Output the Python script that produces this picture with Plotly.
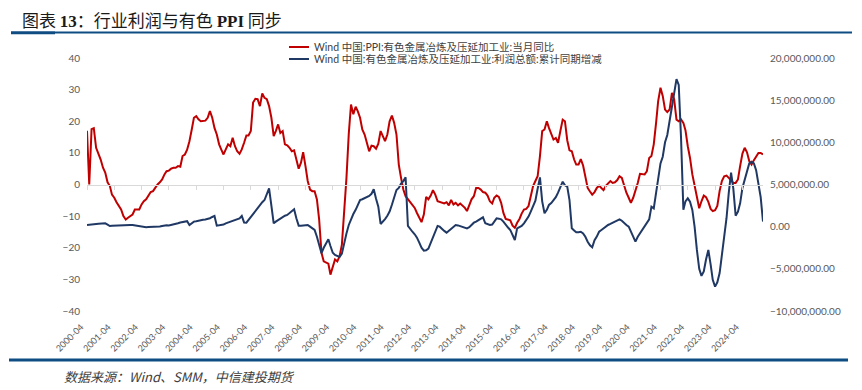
import pandas as pd
import plotly.graph_objects as go

# ---- data ----
months = pd.date_range("2000-04-01", periods=298, freq="MS")
tick_dates = [d for d in months if d.month == 4]
tick_labels = [d.strftime("%Y-%m") for d in tick_dates]

ppi_yoy = [
    17.0, 0.0, 17.5, 17.8, 11.6, 10.0, 7.9, 5.3, 3.8, 0.7, -0.5, -3.2,
    -4.2, -5.6, -6.6, -7.9, -10.0, -11.1, -10.5, -10.0, -9.5, -7.9, -7.9, -7.9,
    -6.3, -5.3, -4.7, -3.7, -2.4, -2.1, -1.0, 0.0, 0.7, 1.6, 3.2, 4.2,
    4.4, 5.0, 5.3, 5.3, 5.8, 5.6, 9.0, 9.5, 11.0, 13.7, 17.4, 21.1,
    21.6, 20.6, 20.0, 20.0, 20.2, 21.1, 23.2, 21.1, 17.9, 15.8, 12.7, 11.1,
    9.5, 11.1, 12.7, 12.1, 14.8, 12.1, 10.5, 9.7, 11.1, 13.2, 15.5, 15.5,
    16.9, 25.9, 27.1, 27.0, 24.8, 28.8, 27.4, 27.0, 24.8, 21.1, 15.3, 16.9,
    19.0, 16.3, 16.9, 12.7, 12.4, 11.6, 10.5, 10.8, 7.9, 5.0, 6.9, 10.2,
    5.8, 1.1, -1.6, -2.1, -2.1, -4.7, -11.1, -21.6, -24.3, -24.6, -25.0, -28.5,
    -25.8, -23.7, -24.3, -22.7, -19.0, -8.5, 2.0, 16.0, 25.3, 22.2, 24.6, 23.2,
    21.1, 17.4, 15.8, 13.2, 10.5, 12.3, 12.1, 11.3, 12.9, 16.9, 15.3, 13.7,
    15.8, 20.0, 21.8, 19.5, 15.8, 6.3, 2.1, -1.6, -3.7, -4.7, -5.5, -6.3,
    -7.4, -9.0, -10.5, -11.9, -9.5, -3.9, -4.7, -3.5, -1.8, -3.2, -5.3, -5.6,
    -5.8, -6.0, -5.6, -6.6, -4.9, -6.3, -5.8, -6.6, -6.0, -6.6, -7.4, -8.4,
    -6.8, -4.7, -3.7, -1.1, -1.1, -1.6, -2.4, -2.6, -3.5, -5.3, -6.0, -4.2,
    -3.5, -3.9, -5.8, -9.0, -10.9, -11.1, -11.3, -13.0, -13.7, -12.1, -10.9, -9.2,
    -7.9, -7.7, -6.8, -3.7, -0.5, 1.1, 2.6, 9.0, 16.9, 17.4, 20.0, 17.9,
    16.3, 14.2, 14.7, 13.2, 16.9, 20.5, 20.0, 14.0, 10.8, 10.5, 7.9, 6.3,
    6.3, 8.0, 6.0, 2.5, -1.1, -2.2, -3.2, -2.4, -1.1, -0.4, -1.1, -1.8,
    -0.4, 0.3, 1.1, 0.5, 0.7, 1.4, 2.6, 2.1, -0.4, -2.6, -4.2, -5.8,
    -4.2, -2.1, 0.5, 3.4, 3.2, 3.2, 4.2, 8.4, 9.0, 12.7, 19.5, 26.4,
    30.6, 28.0, 23.7, 22.9, 23.7, 29.0, 26.9, 20.5, 20.0, 20.6, 19.5, 17.2,
    12.1, 8.4, 3.2, 0.0, -3.5, -7.5, -5.3, -3.5, -4.0, -5.5, -7.7, -8.4,
    -8.1, -6.8, -2.0, 1.1, 2.6, 2.8, 2.1, 1.4, 0.5, 0.5, 1.6, 5.8,
    9.8, 11.6, 10.2, 7.4, 6.3, 7.7, 8.8, 10.0, 10.0, 9.5,
]

# cumulative profit change, in millions (right axis shows full units)
profit_chg_mn = [
    0.20, 0.25, 0.28, 0.30, 0.32, 0.35, 0.38, 0.40, 0.40, 0.25, 0.08, 0.10,
    0.12, 0.15, 0.18, 0.20, 0.20, 0.20, 0.20, 0.20, 0.20, 0.15, 0.08, 0.05,
    0.00, -0.05, -0.07, -0.05, -0.05, -0.03, 0.00, 0.00, 0.02, 0.08, 0.15, 0.18,
    0.15, 0.20, 0.28, 0.35, 0.40, 0.50, 0.55, 0.60, 0.65, 0.20, 0.45, 0.60,
    0.65, 0.72, 0.80, 0.82, 0.85, 0.90, 1.00, 1.15, 1.27, 0.12, 0.15, 0.20,
    0.25, 0.40, 0.50, 0.59, 0.70, 0.78, 0.85, 0.99, 1.27, 0.50, 0.47, 0.80,
    1.11, 1.50, 1.85, 2.18, 2.60, 2.90, 3.16, 3.80, 4.55, 2.50, 0.40, 0.60,
    0.80, 1.00, 1.15, 1.30, 1.39, 1.60, 1.85, 2.06, 1.00, 0.12, 0.12, 0.15,
    0.20, 0.20, 0.00, -0.20, -0.39, -1.20, -2.20, -3.15, -2.50, -1.90, -1.50, -2.30,
    -3.10, -3.35, -3.50, -3.60, -3.20, -1.90, -0.80, 0.20, 0.90, 1.50, 2.00, 2.60,
    3.16, 3.25, 3.36, 3.45, 3.64, 3.90, 4.43, 3.30, 2.37, 0.32, 0.60, 0.90,
    1.30, 1.80, 2.60, 3.40, 4.35, 4.60, 5.10, 5.40, 5.85, 0.10, -0.30, -0.60,
    -0.90, -1.30, -1.90, -2.50, -2.84, -2.80, -2.60, -1.90, -1.18, -0.40, 0.08, 0.00,
    -0.30, -0.50, -0.71, -0.50, -0.20, 0.00, 0.20, 0.15, 0.05, 0.00, -0.10, -0.20,
    -0.07, 0.20, 0.47, 0.60, 0.79, 0.90, 1.11, 0.40, 0.32, 0.20, 0.25, 0.60,
    0.99, 0.95, 0.87, 0.60, 0.20, -0.10, -0.39, -1.00, -1.58, -0.20, -0.10, 0.08,
    0.40, 0.79, 1.20, 1.79, 2.40, 3.08, 4.50, 5.85, 3.00, 1.59, 2.00, 2.57,
    2.80, 3.16, 3.50, 4.03, 4.60, 5.33, 4.90, 4.74, 3.16, -0.20, -0.45, -0.67,
    -0.65, -0.60, -0.80, -1.20, -1.78, -2.20, -2.44, -1.60, -1.18, -0.60, -0.40, -0.20,
    0.00, 0.20, 0.32, 0.45, 0.59, 0.79, 0.87, 0.70, 0.40, 0.20, 0.00, -0.59,
    -1.20, -1.78, -1.20, -0.79, -0.30, 0.00, 0.50, 0.87, 2.37, 2.17, 4.00, 5.92,
    7.50, 8.29, 10.00, 10.87, 12.50, 13.83, 15.80, 17.50, 16.80, 10.50, 2.00, 3.00,
    3.36, 2.96, 1.98, 0.00, -2.76, -5.00, -5.84, -5.30, -3.90, -2.76, -4.50, -6.30,
    -7.11, -6.60, -5.50, -3.55, -1.20, 1.00, 4.00, 6.40, 4.50, 1.30, 1.78, 2.77,
    4.60, 5.50, 6.52, 7.50, 7.70, 7.50, 6.70, 4.90, 3.50, 0.60,
]
profit_chg = [v * 1e6 for v in profit_chg_mn]

name_ppi = "Wind 中国:PPI:有色金属冶炼及压延加工业:当月同比"
name_profit = "Wind 中国:有色金属冶炼及压延加工业:利润总额:累计同期增减"
title_html = ("图表 <span style='font-family:Liberation Serif'><b>13</b></span>："
              "行业利润与有色 <span style='font-family:Liberation Serif'><b>PPI</b></span> 同步")
source_text = "数据来源：Wind、SMM，中信建投期货"

RED = "#C00000"
NAVY = "#203864"
BAND = "#0F4C81"
AX_FONT = dict(family="Lato, Noto Sans CJK SC", size=10, color="#595959")
LEG_FONT = dict(family="Lato, Noto Sans CJK SC", size=10.5, color="#404040")

# page body adds an 8px offset; layout pixel targets below are page coordinates
OFF = 8
PL, PR, PT, PB = 87, 763, 58, 311   # plot area in page pixels
PW, PH = PR - PL, PB - PT


def px(xpix):
    return (xpix - PL) / PW


def py(ypix):
    return (PB - ypix) / PH


fig = go.Figure()
fig.add_trace(go.Scatter(x=months, y=ppi_yoy, name=name_ppi, mode="lines",
                         line=dict(color=RED, width=2), yaxis="y"))
fig.add_trace(go.Scatter(x=months, y=profit_chg, name=name_profit, mode="lines",
                         line=dict(color=NAVY, width=2), yaxis="y2"))
# invisible helper trace to carry the category axis drawn at zero
fig.add_trace(go.Scatter(x=[months[0], months[-1]], y=[0, 0], xaxis="x2", yaxis="y",
                         mode="lines", line=dict(width=0), showlegend=False,
                         hoverinfo="skip"))

xr = [months[0], months[-1]]
fig.update_layout(
    width=862, height=390,
    margin=dict(l=PL - OFF, r=862 - (PR - OFF), t=PT - OFF, b=390 - (PB - OFF),
                autoexpand=False),
    paper_bgcolor="white", plot_bgcolor="white",
    showlegend=False,
    xaxis=dict(type="date", range=xr, tickvals=tick_dates, ticktext=tick_labels,
               tickangle=-45, showgrid=False, zeroline=False, showline=False,
               ticks="", tickfont=dict(family="Lato", size=9, color="#595959"),
               ticklabelstandoff=8, ticklabelshift=-6, automargin=False),
    xaxis2=dict(type="date", range=xr, overlaying="x", anchor="free", position=0.5,
                side="bottom", tickvals=tick_dates, showticklabels=False,
                ticks="outside", ticklen=4, tickcolor="#D9D9D9", showline=True,
                linecolor="#D9D9D9", linewidth=1, showgrid=False, zeroline=False),
    yaxis=dict(range=[-40, 40], dtick=10, showgrid=False, zeroline=False,
               showline=False, tickfont=AX_FONT, ticklabelstandoff=6, automargin=False),
    yaxis2=dict(range=[-10e6, 20e6], dtick=5e6, overlaying="y", side="right",
                tickformat=",.2f", showgrid=False, zeroline=False, showline=False,
                tickfont=AX_FONT, ticklabelstandoff=6, automargin=False),
    title=dict(text=title_html, x=(22 - OFF) / 862, xanchor="left",
               y=1 - (21 - OFF) / 390, yanchor="middle",
               font=dict(family="Noto Sans CJK SC", size=17, color="#1a1a1a")),
)

# legend drawn as key lines + labels
for name, color, ypix in [(name_ppi, RED, 47), (name_profit, NAVY, 59)]:
    fig.add_shape(type="line", xref="paper", yref="paper", x0=px(289), x1=px(309),
                  y0=py(ypix), y1=py(ypix), line=dict(color=color, width=2))
    fig.add_annotation(text=name, xref="paper", yref="paper", x=px(312), y=py(ypix),
                       xanchor="left", yanchor="middle", showarrow=False,
                       font=LEG_FONT)

# header / footer rules and source note
fig.add_shape(type="line", xref="paper", yref="paper", x0=px(11), x1=px(852),
              y0=py(32.5), y1=py(32.5), line=dict(color=BAND, width=2))
fig.add_shape(type="line", xref="paper", yref="paper", x0=px(11), x1=px(55),
              y0=py(32.9), y1=py(32.9), line=dict(color=BAND, width=2.8))
fig.add_shape(type="line", xref="paper", yref="paper", x0=px(9), x1=px(848),
              y0=py(360), y1=py(360), line=dict(color=BAND, width=3))
fig.add_annotation(text="<i>" + source_text + "</i>", xref="paper", yref="paper",
                   x=px(62), y=py(376), xanchor="left", yanchor="middle",
                   showarrow=False,
                   font=dict(family="Noto Sans CJK SC", size=13, color="#404040"))

fig.write_html("out.html")
